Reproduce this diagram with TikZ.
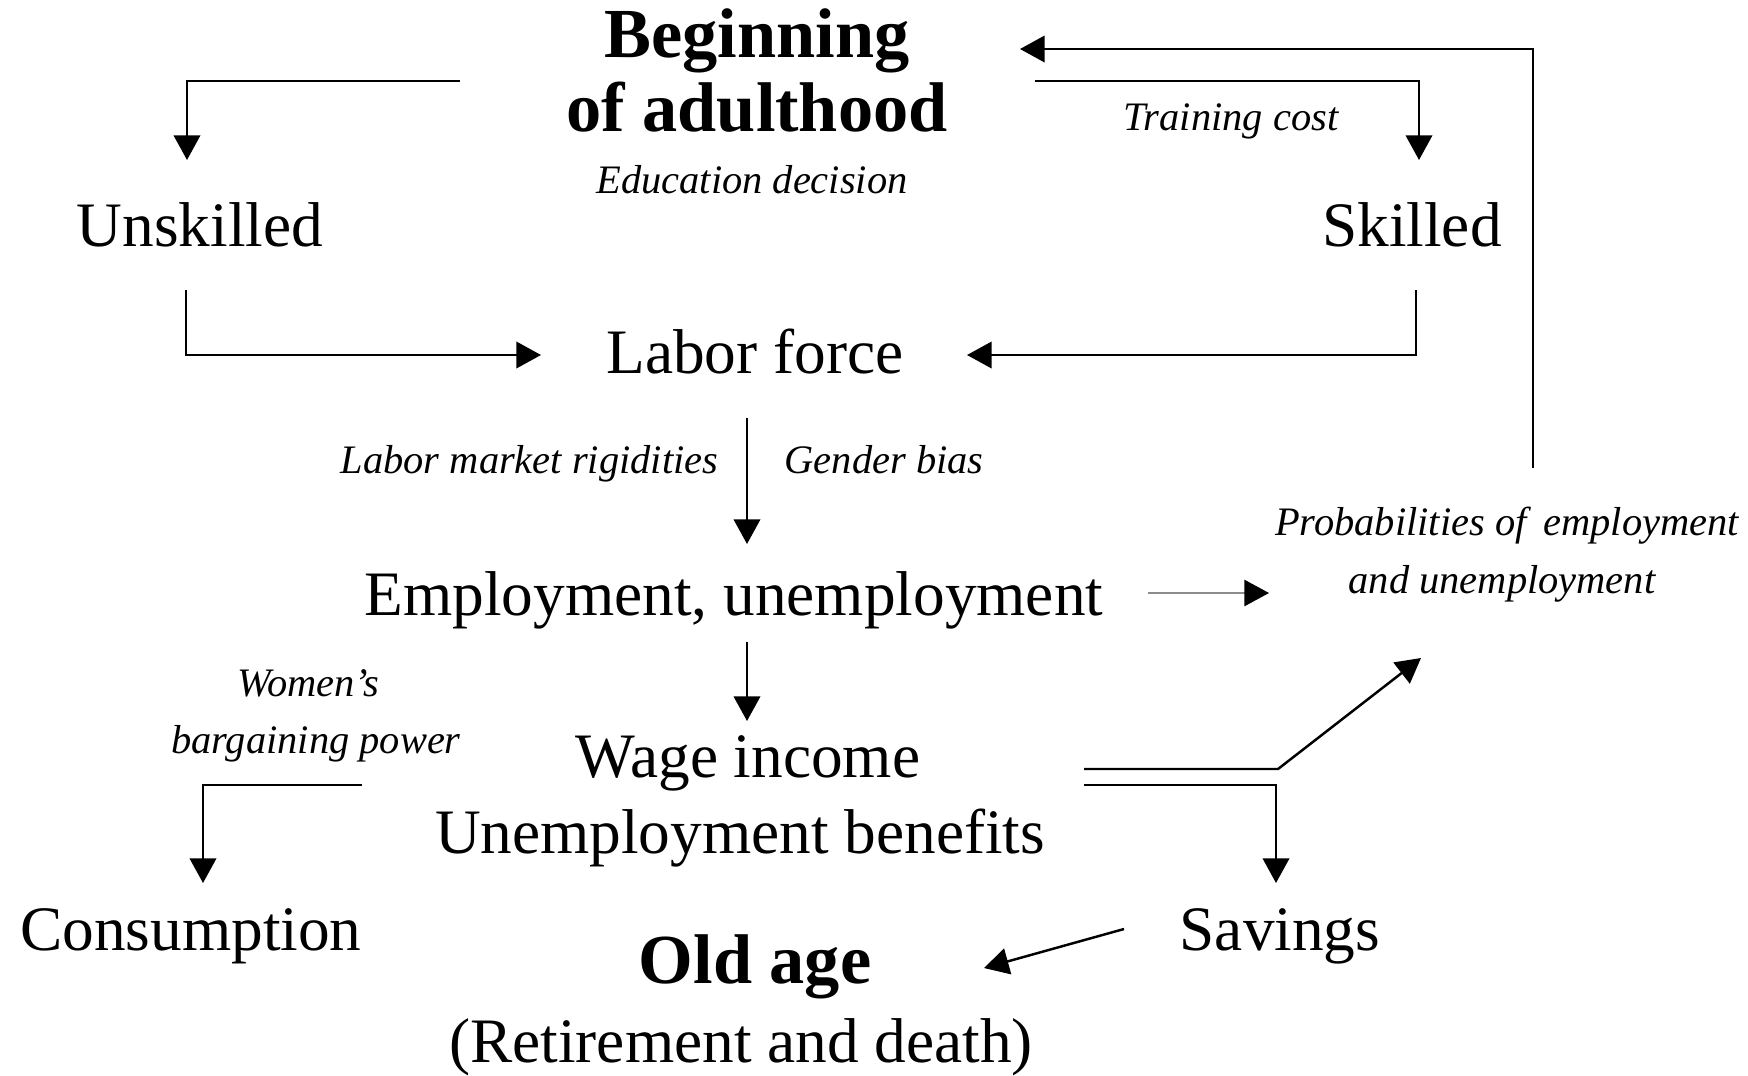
\documentclass[tikz,border=0pt]{standalone}
\usepackage{fontspec}
\setmainfont{Liberation Serif}
\usetikzlibrary{arrows.meta}
\begin{document}
\begin{tikzpicture}[x=0.01cm,y=-0.01cm,
  big/.style={font=\fontsize{18}{20}\selectfont, inner sep=0pt, anchor=base},
  head/.style={font=\fontsize{20}{22}\selectfont\bfseries, inner sep=0pt, anchor=base},
  note/.style={font=\fontsize{11.5}{13}\selectfont\itshape, inner sep=0pt, anchor=base},
  link/.style={line width=0.7pt, -{Triangle[length=7pt,width=7.5pt]}},
  faint/.style={line width=0.35pt, draw=black!45, -{Triangle[length=7pt,width=7.5pt,black]}},
]
\useasboundingbox (0,0) rectangle (1748,1075);

% labels
\node[head] (begin1) at (757,57) {Beginning};
\node[head] (begin2) at (757,131) {of adulthood};
\node[note] (edu) at (752,193) {Education decision};
\node[note] (train) at (1231,130) {Training cost};
\node[big] (unsk) at (200,246) {Unskilled};
\node[big] (skill) at (1412,246) {Skilled};
\node[big] (labor) at (755,373) {Labor force};
\node[note, anchor=base east] (rigid) at (719,473) {Labor market rigidities};
\node[note, anchor=base west] (gender) at (784,473) {Gender bias};
\node[big] (emp) at (734,615) {Employment, unemployment};
\node[note] (prob1) at (1507,535) {Probabilities of\, employment};
\node[note] (prob2) at (1502,593) {and unemployment};
\node[note] (women1) at (308,696) {Women’s};
\node[note] (women2) at (316,753) {bargaining power};
\node[big] (wage) at (748,777) {Wage income};
\node[big] (benef) at (740,853) {Unemployment benefits};
\node[big] (cons) at (191,950) {Consumption};
\node[big] (sav) at (1280,950) {Savings};
\node[head] (old) at (755,983) {Old age};
\node[big] (retire) at (741,1062) {(Retirement and death)};

% connector end points
\coordinate (eduL) at (460,81);
\coordinate (unskIn) at (187,160);
\coordinate (eduR) at (1035,81);
\coordinate (skillIn) at (1419,160);
\coordinate (unskOut) at (186,290);
\coordinate (laborInL) at (541,355);
\coordinate (skillOut) at (1416,290);
\coordinate (laborInR) at (967,355);
\coordinate (laborOut) at (747,418);
\coordinate (empIn) at (747,544);
\coordinate (empOut) at (747,642);
\coordinate (wageIn) at (747,721);
\coordinate (empRight) at (1148,593);
\coordinate (probIn) at (1269,593);
\coordinate (wageR1) at (1084,769);
\coordinate (bend) at (1278,769);
\coordinate (probIn2) at (1421,658);
\coordinate (wageR2) at (1084,785);
\coordinate (savIn) at (1276,883);
\coordinate (wageL) at (362,785);
\coordinate (consIn) at (203,883);
\coordinate (savOut) at (1124,929);
\coordinate (oldIn) at (984,968);
\coordinate (probOut) at (1533,468);
\coordinate (beginIn) at (1020,49);

% connectors
\draw[link] (eduL) -| (unskIn);
\draw[link] (eduR) -| (skillIn);
\draw[link] (unskOut) |- (laborInL);
\draw[link] (skillOut) |- (laborInR);
\draw[link] (laborOut) -- (empIn);
\draw[faint] (empRight) -- (probIn);
\draw[link] (empOut) -- (wageIn);
\draw[link] (wageR1) -- (bend) -- (probIn2);
\draw[link] (wageR2) -| (savIn);
\draw[link] (wageL) -| (consIn);
\draw[link] (savOut) -- (oldIn);
\draw[link] (probOut) |- (beginIn);
\end{tikzpicture}
\end{document}
